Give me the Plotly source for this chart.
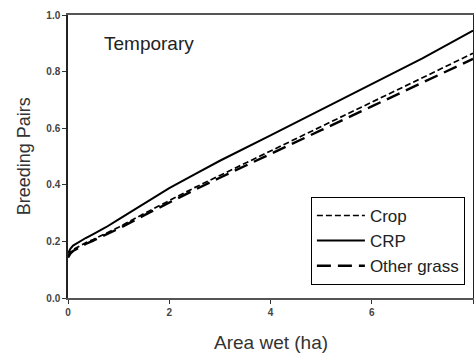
import plotly.graph_objects as go

area_wet = [0, 0.05, 0.1, 0.2, 0.35, 0.5, 0.75, 1, 1.5, 2, 2.5, 3, 4, 5, 6, 7, 8]
crp = [0.158, 0.175, 0.185, 0.197, 0.212, 0.226, 0.250, 0.278, 0.333, 0.388, 0.437, 0.485,
       0.575, 0.665, 0.755, 0.847, 0.945]
crop = [0.150, 0.163, 0.171, 0.181, 0.195, 0.207, 0.228, 0.250, 0.298, 0.345, 0.390, 0.433,
        0.520, 0.605, 0.692, 0.778, 0.865]
other_grass = [0.143, 0.158, 0.166, 0.177, 0.191, 0.203, 0.224, 0.245, 0.292, 0.338, 0.382,
               0.425, 0.510, 0.593, 0.677, 0.761, 0.845]

x_ticks = [0, 2, 4, 6, 8]
y_ticks = [0.0, 0.2, 0.4, 0.6, 0.8, 1.0]
y_tick_labels = ["0.0", "0.2", "0.4", "0.6", "0.8", "1.0"]

FONT = "Liberation Sans, Arial"

fig = go.Figure()
fig.add_trace(go.Scatter(x=area_wet, y=crop, mode="lines", name="Crop",
                         line=dict(color="black", width=1.7, dash="6px,3px")))
fig.add_trace(go.Scatter(x=area_wet, y=crp, mode="lines", name="CRP",
                         line=dict(color="black", width=2)))
fig.add_trace(go.Scatter(x=area_wet, y=other_grass, mode="lines", name="Other grass",
                         line=dict(color="black", width=2.4, dash="14px,7px")))

fig.add_annotation(text="Temporary", x=0.083, y=0.9, xref="paper", yref="paper",
                   xanchor="left", yanchor="middle", showarrow=False,
                   font=dict(family=FONT, size=19, color="#222"))
fig.add_annotation(text="Breeding Pairs", x=-0.109, y=0.5, xref="paper", yref="paper",
                   xanchor="center", yanchor="middle", showarrow=False, textangle=-90,
                   font=dict(family=FONT, size=18, color="#333"))
fig.add_annotation(text="Area wet (ha)", x=0.5, y=-0.159, xref="paper", yref="paper",
                   xanchor="center", yanchor="middle", showarrow=False,
                   font=dict(family=FONT, size=19, color="#333"))

fig.update_layout(
    width=474, height=362,
    margin=dict(l=68, r=1, t=15, b=64, autoexpand=False),
    paper_bgcolor="white", plot_bgcolor="white",
    font=dict(family=FONT, color="#333"),
    legend=dict(x=0.98, y=0.357, xanchor="right", yanchor="top",
                bgcolor="white", bordercolor="black", borderwidth=1,
                font=dict(size=17, color="#222"), tracegroupgap=0,
                itemwidth=48),
    xaxis=dict(range=[0, 8], tickvals=x_ticks, ticktext=[str(v) for v in x_ticks],
               showgrid=False, zeroline=False, showline=True, linecolor="#555",
               linewidth=2, mirror=True, ticks="outside", ticklen=4, tickcolor="#333",
               automargin=False,
               tickfont=dict(size=10, color="#444", family=FONT, weight="bold")),
    yaxis=dict(range=[0, 1.0], tickvals=y_ticks, ticktext=y_tick_labels,
               showgrid=False, zeroline=False, showline=True, linecolor="#222",
               linewidth=1.5, mirror=True, ticks="outside", ticklen=4, tickcolor="#333",
               automargin=False,
               tickfont=dict(size=10, color="#444", family=FONT, weight="bold")),
    showlegend=True,
)

fig.write_html("out.html", config={"displayModeBar": False},
               post_script="document.body.style.margin='0';")
